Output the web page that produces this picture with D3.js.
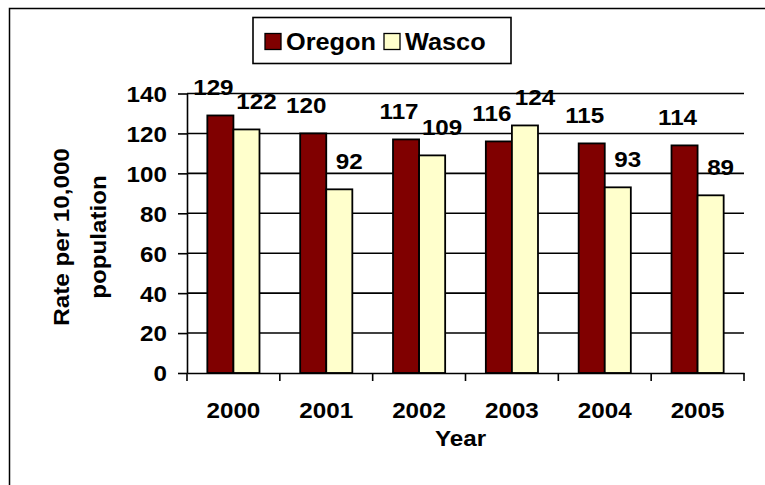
<!DOCTYPE html>
<html>
<head>
<meta charset="utf-8">
<script src="https://cdn.jsdelivr.net/npm/d3@7"></script>
<style>
  html, body { margin: 0; padding: 0; background: #fff; }
  svg { display: block; }
  text { font-family: "Liberation Sans", Arial, sans-serif; font-weight: bold; fill: #000; }
</style>
</head>
<body>
<svg id="chart" width="765" height="485"></svg>
<script>
const years = ["2000", "2001", "2002", "2003", "2004", "2005"];
const seriesNames = ["Oregon", "Wasco"];
const oregon = [129, 120, 117, 116, 115, 114];
const wasco = [122, 92, 109, 124, 93, 89];
const yTicks = [0, 20, 40, 60, 80, 100, 120, 140];
const colors = ["#800000", "#FFFFCC"];
const yTitle = ["Rate per 10,000", "population"];
const xTitle = "Year";

const seriesValues = [oregon, wasco];
const svg = d3.select("#chart");
const STRETCH = 1.1;
function stretch(sel) {
  sel.each(function () {
    const w = this.getComputedTextLength();
    this.setAttribute("textLength", w * STRETCH);
    this.setAttribute("lengthAdjust", "spacingAndGlyphs");
  });
}

// outer frame (cropped on right/bottom)
svg.append("path").attr("d", "M9.5,485 V8.5 H765").attr("fill", "none").attr("stroke", "#000").attr("stroke-width", 1.5);

const pLeft = 187, pRight = 744, pTop = 93.5, pBottom = 373;
const x = d3.scaleBand().domain(years).range([pLeft, pRight]);
const xs = d3.scaleBand().domain(seriesNames).range([0, x.bandwidth()]).paddingInner(0).paddingOuter(0.78);
const y = d3.scaleLinear().domain([0, 140]).range([pBottom, pTop]);

// gridlines
svg.append("g").selectAll("line").data(yTicks.filter(d => d > 0)).join("line")
  .attr("x1", pLeft).attr("x2", pRight)
  .attr("y1", d => y(d)).attr("y2", d => y(d))
  .attr("stroke", "#000").attr("stroke-width", 1.6);

// bars
const groups = svg.append("g").selectAll("g").data(years).join("g")
  .attr("transform", d => `translate(${x(d)},0)`);
groups.selectAll("rect").data((d, i) => seriesNames.map((s, j) => ({ s, j, v: seriesValues[j][i] }))).join("rect")
  .attr("x", d => xs(d.s)).attr("width", xs.bandwidth())
  .attr("y", d => y(d.v)).attr("height", d => y(0) - y(d.v))
  .attr("fill", d => colors[d.j]).attr("stroke", "#000").attr("stroke-width", 1.8);

// y axis
const yAxis = d3.axisLeft(y).tickValues(yTicks).tickSize(9).tickPadding(11).tickSizeOuter(0);
const gy = svg.append("g").attr("transform", `translate(${pLeft},0)`).call(yAxis);
gy.select(".domain").attr("stroke-width", 1.6);
gy.selectAll(".tick line").attr("stroke-width", 1.6);
gy.selectAll(".tick text").attr("font-size", 22).attr("font-family", "Liberation Sans, Arial, sans-serif").attr("font-weight", "bold").attr("dy", "0.36em");

// x axis
const xAxis = d3.axisBottom(x).tickSize(0).tickPadding(29);
const gx = svg.append("g").attr("transform", `translate(0,${pBottom})`).call(xAxis);
gx.select(".domain").attr("stroke-width", 1.6);
gx.selectAll(".tick text").attr("font-size", 22).attr("font-family", "Liberation Sans, Arial, sans-serif").attr("font-weight", "bold");
gx.selectAll("line.bt").data(years.map(d => x(d)).concat([pRight])).join("line").attr("class", "bt")
  .attr("x1", d => d).attr("x2", d => d).attr("y1", 0).attr("y2", 8)
  .attr("stroke", "#000").attr("stroke-width", 1.6);

// data labels
const labelOffset = [-7, 10];
groups.selectAll("text.lbl").data((d, i) => seriesNames.map((s, j) => ({ s, j, v: seriesValues[j][i] }))).join("text")
  .attr("class", "lbl")
  .attr("x", d => xs(d.s) + xs.bandwidth() / 2 + labelOffset[d.j])
  .attr("y", d => y(d.v) - 20)
  .attr("text-anchor", "middle").attr("font-size", 22)
  .text(d => d.v);

// axis titles
svg.append("text").attr("text-anchor", "middle").attr("font-size", 22)
  .attr("x", (pLeft + pRight) / 2 - 5).attr("y", 446).text(xTitle);
svg.append("g").attr("transform", "translate(69,237) rotate(-90)")
  .selectAll("text").data(yTitle).join("text")
  .attr("text-anchor", "middle").attr("font-size", 22)
  .attr("x", 0).attr("y", (d, i) => i * 37).text(d => d);

// legend
const lg = svg.append("g");
lg.append("rect").attr("x", 253).attr("y", 17.5).attr("width", 258).attr("height", 46)
  .attr("fill", "#fff").attr("stroke", "#000").attr("stroke-width", 1.6);
const items = lg.selectAll("g").data(seriesNames).join("g")
  .attr("transform", (d, i) => `translate(${i === 0 ? 265 : 384},0)`);
items.append("rect").attr("x", 0).attr("y", 33.5).attr("width", 16).attr("height", 16)
  .attr("fill", (d, i) => colors[i]).attr("stroke", "#000").attr("stroke-width", 1.3);
items.append("text").attr("x", 21).attr("y", 50).attr("font-size", 23).text(d => d);

stretch(svg.selectAll("text"));
</script>
</body>
</html>
